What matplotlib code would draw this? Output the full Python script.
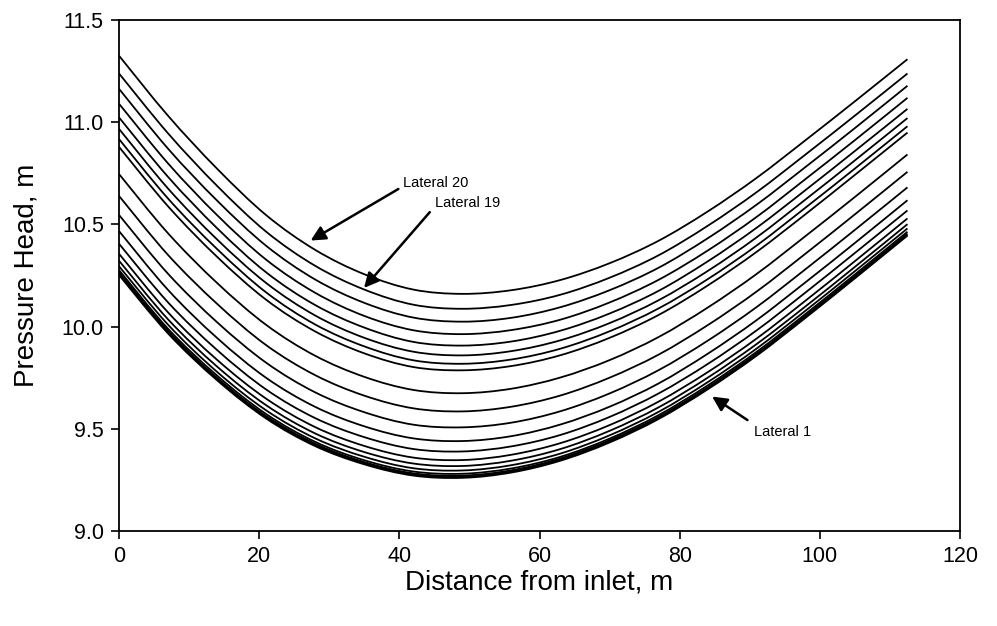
import numpy as np
import matplotlib
matplotlib.use('Agg')
import matplotlib.pyplot as plt
from matplotlib.path import Path
from matplotlib.patches import PathPatch

plt.rcParams['font.family'] = ['Liberation Sans', 'DejaVu Sans']

# distance from inlet (m)
dist = [0, 7, 14, 21, 28, 35, 42, 49, 56, 63, 70, 77, 84, 91, 98, 105, 112.5]

# pressure head (m) per lateral
lat20 = [11.325, 11.031, 10.772, 10.545, 10.375, 10.256, 10.181, 10.160, 10.178, 10.228, 10.310, 10.420, 10.563, 10.728, 10.913, 11.102, 11.308]
lat19 = [11.238, 10.945, 10.688, 10.464, 10.297, 10.181, 10.107, 10.087, 10.106, 10.156, 10.239, 10.349, 10.493, 10.658, 10.843, 11.032, 11.238]
lat18 = [11.163, 10.870, 10.616, 10.395, 10.230, 10.116, 10.044, 10.024, 10.043, 10.095, 10.178, 10.288, 10.432, 10.597, 10.782, 10.971, 11.178]
lat17 = [11.090, 10.798, 10.545, 10.327, 10.165, 10.052, 9.982, 9.963, 9.983, 10.034, 10.118, 10.229, 10.372, 10.537, 10.723, 10.912, 11.119]
lat16 = [11.023, 10.732, 10.481, 10.265, 10.105, 9.995, 9.925, 9.907, 9.927, 9.980, 10.064, 10.175, 10.319, 10.484, 10.669, 10.859, 11.065]
lat15 = [10.967, 10.675, 10.426, 10.213, 10.054, 9.945, 9.877, 9.859, 9.880, 9.933, 10.017, 10.129, 10.272, 10.437, 10.623, 10.813, 11.020]
lat14 = [10.917, 10.626, 10.379, 10.167, 10.010, 9.903, 9.835, 9.818, 9.839, 9.892, 9.977, 10.089, 10.232, 10.397, 10.583, 10.773, 10.980]
lat13 = [10.879, 10.588, 10.341, 10.131, 9.976, 9.869, 9.802, 9.786, 9.807, 9.860, 9.945, 10.057, 10.201, 10.366, 10.551, 10.742, 10.949]
lat12 = [10.746, 10.456, 10.213, 10.008, 9.857, 9.754, 9.690, 9.674, 9.696, 9.751, 9.836, 9.949, 10.093, 10.258, 10.444, 10.634, 10.842]
lat11 = [10.639, 10.350, 10.111, 9.909, 9.762, 9.662, 9.600, 9.585, 9.608, 9.663, 9.750, 9.863, 10.007, 10.172, 10.358, 10.549, 10.757]
lat10 = [10.546, 10.258, 10.021, 9.823, 9.678, 9.581, 9.520, 9.507, 9.530, 9.586, 9.673, 9.787, 9.931, 10.096, 10.282, 10.473, 10.681]
lat9 = [10.467, 10.179, 9.944, 9.749, 9.607, 9.512, 9.453, 9.440, 9.464, 9.521, 9.608, 9.722, 9.867, 10.032, 10.218, 10.409, 10.618]
lat8 = [10.405, 10.118, 9.885, 9.692, 9.552, 9.459, 9.401, 9.389, 9.414, 9.470, 9.558, 9.673, 9.817, 9.982, 10.168, 10.360, 10.568]
lat7 = [10.356, 10.069, 9.837, 9.647, 9.508, 9.416, 9.359, 9.347, 9.373, 9.430, 9.518, 9.633, 9.777, 9.942, 10.128, 10.320, 10.529]
lat6 = [10.322, 10.035, 9.804, 9.615, 9.477, 9.386, 9.330, 9.318, 9.344, 9.401, 9.490, 9.605, 9.750, 9.915, 10.100, 10.292, 10.501]
lat5 = [10.295, 10.009, 9.778, 9.590, 9.453, 9.363, 9.307, 9.296, 9.322, 9.379, 9.468, 9.583, 9.728, 9.893, 10.079, 10.271, 10.480]
lat4 = [10.276, 9.989, 9.760, 9.572, 9.436, 9.346, 9.291, 9.280, 9.306, 9.363, 9.452, 9.567, 9.712, 9.877, 10.063, 10.255, 10.464]
lat3 = [10.265, 9.979, 9.749, 9.562, 9.427, 9.337, 9.282, 9.271, 9.297, 9.355, 9.444, 9.558, 9.703, 9.868, 10.054, 10.246, 10.455]
lat2 = [10.258, 9.972, 9.743, 9.556, 9.421, 9.332, 9.276, 9.265, 9.291, 9.349, 9.438, 9.553, 9.698, 9.863, 10.049, 10.241, 10.450]
lat1 = [10.252, 9.966, 9.737, 9.550, 9.415, 9.326, 9.271, 9.260, 9.286, 9.344, 9.433, 9.548, 9.693, 9.858, 10.044, 10.236, 10.445]

laterals = [lat1, lat2, lat3, lat4, lat5, lat6, lat7, lat8, lat9, lat10,
            lat11, lat12, lat13, lat14, lat15, lat16, lat17, lat18, lat19, lat20]

xt = np.arange(0, 121, 20)
yt = np.arange(9.0, 11.51, 0.5)


def smooth_path(x, y):
  # excel-like smoothed line: catmull-rom segments as cubic beziers
  p = np.column_stack([x, y]).astype(float)
  ext = np.vstack([p[0], p, p[-1]])
  verts, codes = [p[0]], [Path.MOVETO]
  for i in range(len(p) - 1):
    a, b, c, d = ext[i], ext[i + 1], ext[i + 2], ext[i + 3]
    verts += [b + (c - a) / 6, c - (d - b) / 6, c]
    codes += [Path.CURVE4] * 3
  return Path(verts, codes)


fig = plt.figure(figsize=(9.97, 6.26), dpi=100)
ax = fig.add_axes([0.1194, 0.1518, 0.8435, 0.8163])

for p in laterals:
  ax.add_patch(PathPatch(smooth_path(dist, p), fill=False, ec='black', lw=1.3))

# callouts
arw = dict(arrowstyle='-|>', color='black', lw=1.8, mutation_scale=22)
ax.annotate('', xy=(27.0, 10.414), xytext=(40.2, 10.68), arrowprops=arw)
ax.text(40.5, 10.703, 'Lateral 20', fontsize=10.5, ha='left', va='center')
ax.annotate('', xy=(34.7, 10.179), xytext=(44.6, 10.57), arrowprops=arw)
ax.text(45.1, 10.605, 'Lateral 19', fontsize=10.5, ha='left', va='center')
ax.annotate('', xy=(84.3, 9.665), xytext=(90.0, 9.535), arrowprops=arw)
ax.text(90.6, 9.484, 'Lateral 1', fontsize=10.5, ha='left', va='center')

ax.set_xlim(xt[0], xt[-1])
ax.set_ylim(yt[0], yt[-1])
ax.set_xticks(xt)
ax.set_yticks(yt)
ax.set_yticklabels([f'{v:.1f}' for v in yt])
ax.tick_params(labelsize=15.5, length=6, width=1.2, direction='out', pad=5)
for s in ax.spines.values():
  s.set_linewidth(1.3)
ax.set_xlabel('Distance from inlet, m', fontsize=20)
ax.set_ylabel('Pressure Head, m', fontsize=20)
ax.xaxis.set_label_coords(0.5, -0.075)
ax.yaxis.set_label_coords(-0.094, 0.5)

fig.savefig('out.png', dpi=100)
